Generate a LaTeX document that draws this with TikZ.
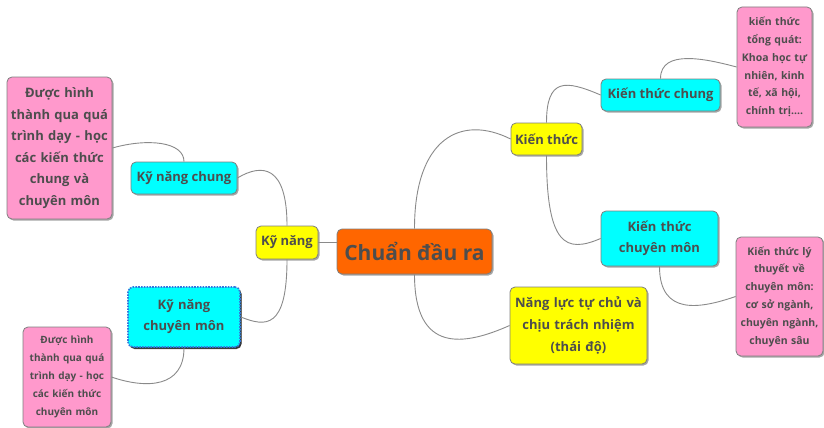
\documentclass[tikz,border=0pt]{standalone}
\usepackage{fontspec}
\setmainfont{Open Sans}
\usetikzlibrary{shadows}
\definecolor{txt}{HTML}{4D4D4D}
\definecolor{edge}{HTML}{8A8A8A}
\definecolor{borderc}{HTML}{7F7F7F}
\definecolor{orangec}{HTML}{FF6600}
\definecolor{yellowc}{HTML}{FFFF00}
\definecolor{cyanc}{HTML}{00FFFF}
\definecolor{pinkc}{HTML}{FF99CC}
\definecolor{dotc}{HTML}{3377DD}
\tikzset{
  box/.style={draw=borderc, line width=0.8pt, rounded corners=5pt, inner sep=0pt,
    align=center, text=txt, font=\bfseries,
    drop shadow={shadow xshift=1.5pt, shadow yshift=-1.5pt, opacity=0.35, fill=black}},
  conn/.style={draw=edge, line width=0.9pt},
}
\begin{document}
\begin{tikzpicture}[x=1pt,y=-1pt]
\useasboundingbox (0,0) rectangle (824,428);
% nodes
\node[box, fill=orangec, minimum width=155pt, minimum height=45pt, font=\bfseries\fontsize{21}{24}\selectfont] (central) at (414.5,251.5) {Chuẩn đầu ra};
\node[box, fill=yellowc, minimum width=62pt, minimum height=33pt, font=\bfseries\fontsize{13}{21}\selectfont] (kynang) at (287,242.5) {Kỹ năng};
\node[box, fill=cyanc, minimum width=106pt, minimum height=32pt, font=\bfseries\fontsize{13}{21}\selectfont] (knchung) at (184,178) {Kỹ năng chung};
\node[box, fill=pinkc, minimum width=105pt, minimum height=142pt, text width=99pt, font=\bfseries\fontsize{13}{21.6}\selectfont] (pinka) at (59.5,148) {Được hình\\thành qua quá\\trình dạy - học\\các kiến thức\\chung và\\chuyên môn};
\node[box, fill=cyanc, draw=dotc, line width=1.6pt, dash pattern=on 1.6pt off 1.2pt, rounded corners=5pt, minimum width=112pt, minimum height=60pt, text width=106pt, font=\bfseries\fontsize{13}{21}\selectfont, drop shadow={shadow xshift=1.5pt, shadow yshift=-2pt, opacity=0.7, fill=black}] (kncm) at (184,317) {Kỹ năng\\chuyên môn};
\node[box, fill=pinkc, minimum width=88pt, minimum height=100pt, text width=84pt, font=\bfseries\fontsize{10}{18}\selectfont] (pinkb) at (67,377) {Được hình\\thành qua quá\\trình dạy - học\\các kiến thức\\chuyên môn};
\node[box, fill=yellowc, minimum width=71pt, minimum height=32pt, font=\bfseries\fontsize{13}{21}\selectfont] (kienthuc) at (546.5,139) {Kiến thức};
\node[box, fill=cyanc, minimum width=119pt, minimum height=32pt, font=\bfseries\fontsize{13}{21}\selectfont] (ktchung) at (660.5,95) {Kiến thức chung};
\node[box, fill=pinkc, minimum width=75pt, minimum height=120pt, text width=72pt, font=\bfseries\fontsize{10.5}{17.8}\selectfont] (pinkc) at (774.5,67) {kiến thức\\tổng quát:\\Khoa học tự\\nhiên, kinh\\tế, xã hội,\\chính trị....};
\node[box, fill=cyanc, minimum width=117pt, minimum height=55pt, text width=111pt, font=\bfseries\fontsize{13}{21.3}\selectfont] (ktcm) at (659.5,238.5) {Kiến thức\\chuyên môn};
\node[box, fill=pinkc, minimum width=87pt, minimum height=119pt, text width=84pt, font=\bfseries\fontsize{10.5}{17.8}\selectfont] (pinkd) at (779.5,296.5) {Kiến thức lý\\thuyết về\\chuyên môn:\\cơ sở ngành,\\chuyên ngành,\\chuyên sâu};
\node[box, fill=yellowc, minimum width=137pt, minimum height=77pt, text width=131pt, font=\bfseries\fontsize{13}{21.7}\selectfont] (nangluc) at (578.5,325.5) {Năng lực tự chủ và\\chịu trách nhiệm\\(thái độ)};
% connectors
\draw[conn] (kynang.east) -- (kynang.east -| central.west);
\draw[conn] (central.north) .. controls +(0,-90) and +(-50,-25) .. (kienthuc.west);
\draw[conn] (central.south) .. controls +(0,80) and +(-45,20) .. (nangluc.west);
\draw[conn] (kienthuc.north) .. controls +(0,-45) and +(-35,-15) .. (ktchung.west);
\draw[conn] (kienthuc.south) .. controls +(0,90) and +(-35,15) .. (ktcm.west);
\draw[conn] (ktchung.north) .. controls +(0,-30) and +(-30,-8) .. (pinkc.west);
\draw[conn] (ktcm.south) .. controls +(0,50) and +(-35,12) .. (pinkd.west);
\draw[conn] (kynang.north) .. controls +(0,-60) and +(25,-15) .. (knchung.east);
\draw[conn] (kynang.south) .. controls +(0,70) and +(25,10) .. (kncm.east);
\draw[conn] (knchung.north) .. controls +(0,-20) and +(35,-10) .. (pinka.east);
\draw[conn] (kncm.south) .. controls +(0,40) and +(35,12) .. (pinkb.east);
\end{tikzpicture}
\end{document}
